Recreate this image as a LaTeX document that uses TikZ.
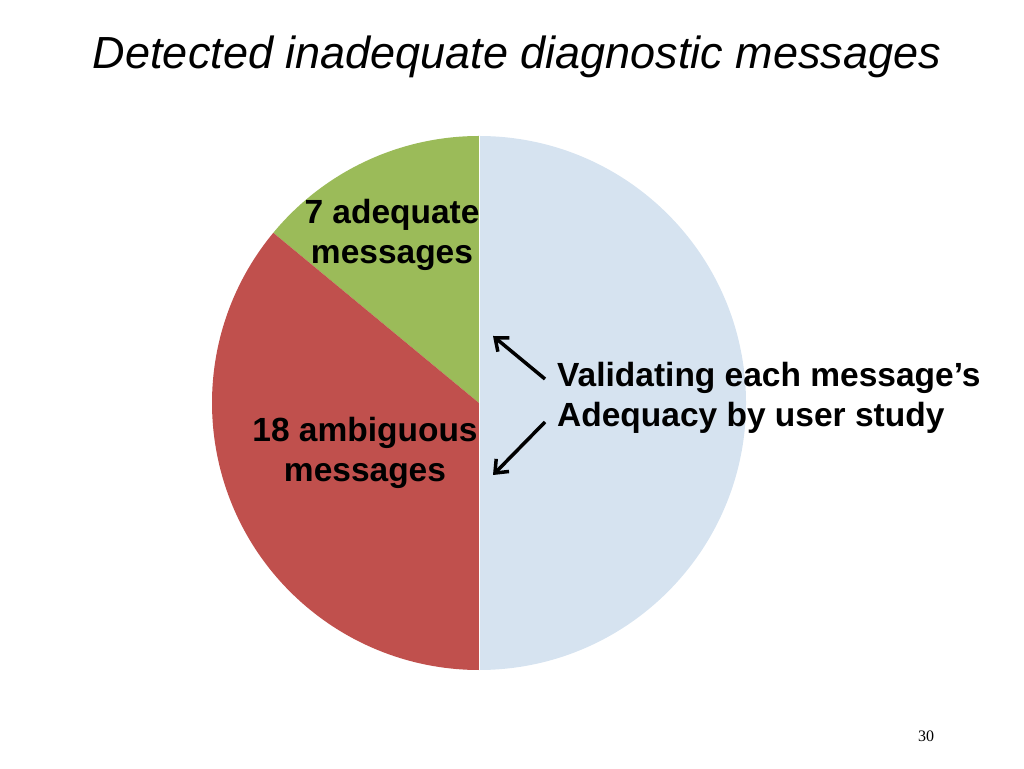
\documentclass[tikz,border=0pt]{standalone}
\usepackage{fontspec}
\setmainfont{Liberation Sans}
\newfontfamily\serifnum{Liberation Serif}
\usetikzlibrary{arrows.meta}
\definecolor{pgreen}{RGB}{155,187,89}
\definecolor{pred}{RGB}{192,80,77}
\definecolor{pblue}{RGB}{214,227,240}
\tikzset{lbl/.style={font=\fontsize{33.5}{40}\selectfont\bfseries, align=center, inner sep=0pt},
arr/.style={-{Straight Barb[length=11pt,width=18pt]}, line width=3.5pt}}
\begin{document}
\begin{tikzpicture}[x=1pt,y=1pt]
\useasboundingbox (0,0) rectangle (1024,768);
\coordinate (c) at (479,365);
\fill[pblue] (c) -- +(0,267) arc[start angle=90,end angle=-90,radius=267] -- cycle;
\fill[pgreen] (c) -- +(0,267) arc[start angle=90,end angle=140.4,radius=267] -- cycle;
\fill[pred] (c) -- +(140.4:267) arc[start angle=140.4,end angle=270,radius=267] -- cycle;
\draw[white,line width=1pt] (479,632) -- (479,98);
\node[font=\fontsize{45}{50}\selectfont\itshape] (t) at (517,711) {Detected inadequate diagnostic messages};
\node[lbl] (g) at (392,533) {7 adequate\\messages};
\node[lbl] (r) at (365,315) {18 ambiguous\\messages};
\node[lbl, align=left, anchor=west] (v) at (557,370) {Validating each message’s\\Adequacy by user study};
\coordinate (a1) at (493,432);
\coordinate (a2) at (493,293);
\draw[arr] (545,389) -- (a1);
\draw[arr] (545,346) -- (a2);
\node[font=\serifnum\fontsize{16}{18}\selectfont] (p) at (926,32) {30};
\end{tikzpicture}
\end{document}
